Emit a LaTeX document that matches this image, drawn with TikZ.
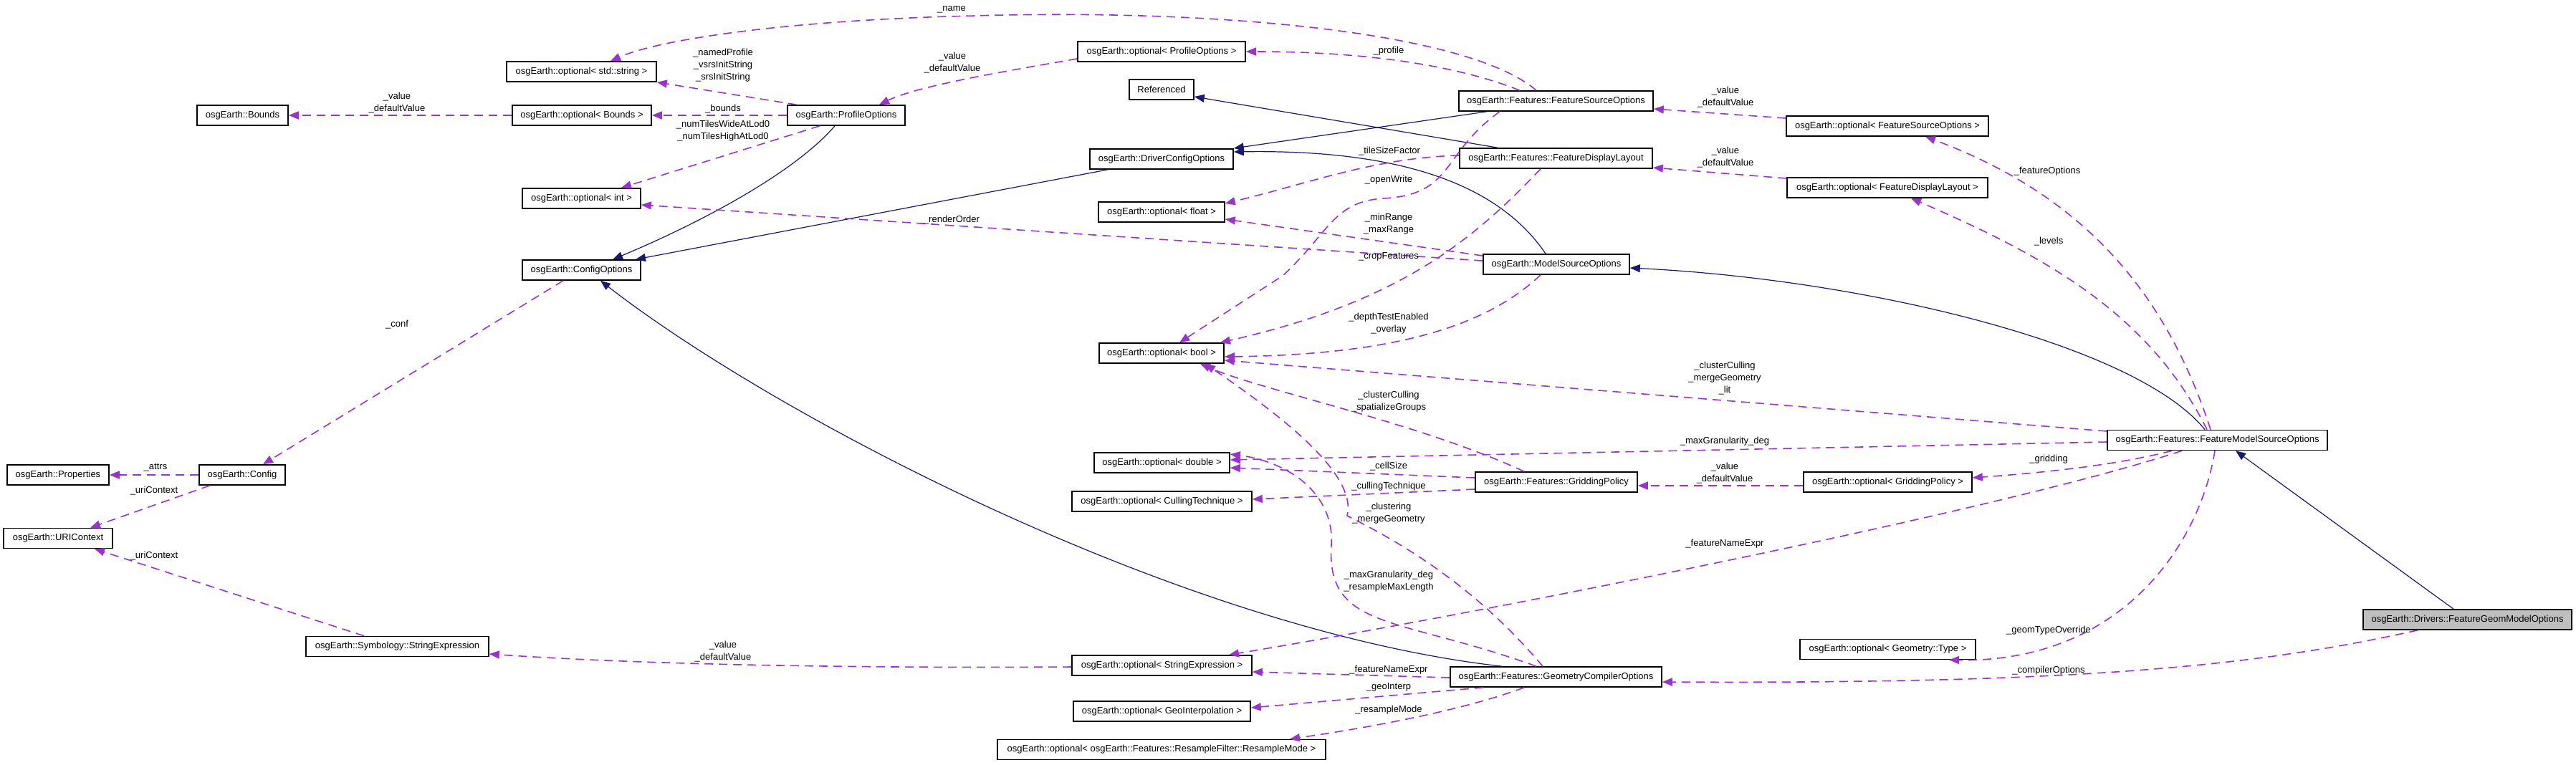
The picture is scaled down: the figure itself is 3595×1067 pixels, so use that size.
\documentclass[tikz,border=0pt]{standalone}
\usepackage{fontspec}
\setmainfont{Liberation Sans}
\usetikzlibrary{arrows.meta,calc}
\definecolor{navy}{HTML}{191970}
\definecolor{orchid}{HTML}{9A32CD}
\definecolor{grayfill}{HTML}{BFBFBF}
\newcommand\lblfont{\fontsize{6.5pt}{8.5pt}\selectfont}
\tikzset{
  cls/.style={draw=black, line width=0.8pt, fill=white, minimum height=14pt, inner sep=0pt, font=\lblfont},
  inh/.style={draw=navy, line width=0.6pt, -{Triangle[length=7pt,width=5.5pt]}},
  usage/.style={draw=orchid, line width=0.8pt, dash pattern=on 6pt off 4pt, -{Triangle[length=7pt,width=5.5pt]}},
  lab/.style={font=\lblfont, align=center, inner sep=0pt}
}
\begin{document}
\begin{tikzpicture}[x=0.5pt,y=-0.5pt]
\fill[white] (0,0) rectangle (3595,1067);
\useasboundingbox (0,0) rectangle (3595,1067);
% nodes
\node[cls, minimum width=104.5pt] (ostr) at (811.5,100) {osgEarth::optional< std::string >};
\node[cls, minimum width=63.5pt] (bounds) at (338.5,161) {osgEarth::Bounds};
\node[cls, minimum width=97pt] (obounds) at (812,161) {osgEarth::optional< Bounds >};
\node[cls, minimum width=82.5pt] (oint) at (811.5,277) {osgEarth::optional< int >};
\node[cls, minimum width=82pt] (profopt) at (1181,161) {osgEarth::ProfileOptions};
\node[cls, minimum width=117pt] (oprof) at (1621,72) {osgEarth::optional< ProfileOptions >};
\node[cls, minimum width=45pt] (referenced) at (1621,125) {Referenced};
\node[cls, minimum width=100pt] (dco) at (1621,222) {osgEarth::DriverConfigOptions};
\node[cls, minimum width=88pt] (ofloat) at (1621,296) {osgEarth::optional< float >};
\node[cls, minimum width=135.5pt] (fso) at (2171.5,141) {osgEarth::Features::FeatureSourceOptions};
\node[cls, minimum width=134.5pt] (fdl) at (2171.5,221) {osgEarth::Features::FeatureDisplayLayout};
\node[cls, minimum width=141pt] (ofso) at (2634,176) {osgEarth::optional< FeatureSourceOptions >};
\node[cls, minimum width=140pt] (ofdl) at (2634,262) {osgEarth::optional< FeatureDisplayLayout >};
\node[cls, minimum width=102pt] (mso) at (2172,369) {osgEarth::ModelSourceOptions};
\node[cls, minimum width=82.5pt] (confopt) at (811.5,377) {osgEarth::ConfigOptions};
\node[cls, minimum width=60pt] (config) at (338,663) {osgEarth::Config};
\node[cls, minimum width=71pt] (props) at (81,663) {osgEarth::Properties};
\node[cls, minimum width=87pt] (obool) at (1621,493) {osgEarth::optional< bool >};
\node[cls, minimum width=94.5pt] (odouble) at (1621.5,646) {osgEarth::optional< double >};
\node[cls, minimum width=125.5pt] (ocull) at (1621.5,700) {osgEarth::optional< CullingTechnique >};
\node[cls, minimum width=113pt] (grid) at (2172,673) {osgEarth::Features::GriddingPolicy};
\node[cls, minimum width=117.5pt] (ogrid) at (2634.5,673) {osgEarth::optional< GriddingPolicy >};
\node[cls, minimum width=153.5pt] (fmso) at (3094.5,614.5) {osgEarth::Features::FeatureModelSourceOptions};
\node[cls, minimum width=76pt] (uri) at (81,751.5) {osgEarth::URIContext};
\node[cls, minimum width=127.5pt] (sexpr) at (554.5,902.5) {osgEarth::Symbology::StringExpression};
\node[cls, minimum width=125.5pt] (osexpr) at (1621.5,929) {osgEarth::optional< StringExpression >};
\node[cls, minimum width=123.5pt] (ogeo) at (1621.5,993) {osgEarth::optional< GeoInterpolation >};
\node[cls, minimum width=229pt] (oresample) at (1621,1046.5) {osgEarth::optional< osgEarth::Features::ResampleFilter::ResampleMode >};
\node[cls, minimum width=147.5pt] (gco) at (2171.5,945) {osgEarth::Features::GeometryCompilerOptions};
\node[cls, minimum width=122.5pt] (ogeom) at (2634.5,906.5) {osgEarth::optional< Geometry::Type >};
\node[cls, minimum width=145.5pt, fill=grayfill] (fgmo) at (3443.5,865) {osgEarth::Drivers::FeatureGeomModelOptions};
% inheritance
\draw[inh] (1165,0 |- profopt.south) .. controls (1110,240) and (980,310) .. (855,0 |- confopt.north);
\draw[inh] (1546,0 |- dco.south) -- (887,0 |- confopt.north);
\draw[inh] (2075,0 |- fso.south) -- (dco.east |- 0,207);
\draw[inh] (2090,0 |- fdl.north) -- (referenced.east |- 0,135);
\draw[inh] (2157,0 |- mso.north) .. controls (2100,270) and (1980,208) .. (dco.east |- 0,212);
\draw[inh] (2096,0 |- gco.north) .. controls (1650,880) and (1080,580) .. (838,0 |- confopt.south);
\draw[inh] (3077,0 |- fmso.north) .. controls (2980,480) and (2600,390) .. (mso.east |- 0,374);
\draw[inh] (3424,0 |- fgmo.north) -- (3120,0 |- fmso.south);
% usage
\draw[usage] (obounds.west) -- (bounds.east);
\draw[usage] (1112,0 |- profopt.north) -- (ostr.south east);
\draw[usage] (profopt.west) -- (obounds.east);
\draw[usage] (1144,0 |- profopt.south) -- (867,0 |- oint.north);
\draw[usage] (oprof.west |- 0,82) .. controls (1400,100) and (1280,120) .. (1227,0 |- profopt.north);
\draw[usage] (2144,0 |- fso.north) .. controls (2050,45) and (1700,12) .. (1360,22) .. controls (1100,28) and (920,55) .. (852,0 |- ostr.north);
\draw[usage] (2121,0 |- fso.north) .. controls (2030,90) and (1900,72) .. (oprof.east);
\draw[usage] (2093,0 |- fso.south) .. controls (2010,215) and (2030,272) .. (1930,277) .. controls (1860,282) and (1855,325) .. (1790,385) -- (1646,0 |- obool.north);
\draw[usage] (fdl.west |- 0,217) .. controls (1920,220) and (1830,255) .. (ofloat.east |- 0,284);
\draw[usage] (2150,0 |- fdl.south) .. controls (2060,330) and (1960,420) .. (1703,0 |- obool.north);
\draw[usage] (mso.west |- 0,357) -- (ofloat.east |- 0,306);
\draw[usage] (mso.west |- 0,364) -- (oint.east |- 0,286);
\draw[usage] (2150,0 |- mso.south) .. controls (2080,450) and (1960,495) .. (obool.east |- 0,498);
\draw[usage] (fmso.west |- 0,602) -- (obool.east |- 0,503);
\draw[usage] (fmso.west |- 0,617) -- (odouble.east |- 0,642);
\draw[usage] (grid.west |- 0,667) -- (odouble.east |- 0,653);
\draw[usage] (grid.west |- 0,683) -- (ocull.east |- 0,697);
\draw[usage] (2127,0 |- grid.north) .. controls (1980,590) and (1760,545) .. (1675,0 |- obool.south);
\draw[usage] (ogrid.west |- 0,678) -- (grid.east |- 0,678);
\draw[usage] (3031,0 |- fmso.south) .. controls (2950,650) and (2850,660) .. (ogrid.east |- 0,667);
\draw[usage] (3045,0 |- fmso.south) .. controls (2800,710) and (2100,850) .. (1715,0 |- osexpr.north);
\draw[usage] (3091,0 |- fmso.south) .. controls (3070,760) and (2960,925) .. (2720,0 |- ogeom.south);
\draw[usage] (3374,0 |- fgmo.south) .. controls (3150,930) and (2900,955) .. (gco.east |- 0,952);
\draw[usage] (2144,0 |- gco.north) .. controls (1950,860) and (1850,880) .. (1858,760) .. controls (1862,690) and (1800,645) .. (odouble.east |- 0,634);
\draw[usage] (2153,0 |- gco.north) .. controls (2060,820) and (1960,760) .. (1880,720) .. controls (1895,660) and (1780,575) .. (1682,0 |- obool.south);
\draw[usage] (config.west) -- (props.east);
\draw[usage] (293,0 |- config.south) -- (126,0 |- uri.north);
\draw[usage] (508,0 |- sexpr.north) -- (132,0 |- uri.south);
\draw[usage] (786,0 |- confopt.south) -- (367,0 |- config.north);
\draw[usage] (osexpr.west |- 0,931) .. controls (1200,933) and (900,928) .. (sexpr.east |- 0,913);
\draw[usage] (gco.west |- 0,946) -- (osexpr.east |- 0,938);
\draw[usage] (2070,0 |- gco.south) -- (ogeo.east |- 0,988);
\draw[usage] (2127,0 |- gco.south) .. controls (2060,985) and (1950,1010) .. (1800,0 |- oresample.north);
\draw[usage] (ofso.west |- 0,165) -- (fso.east |- 0,152);
\draw[usage] (ofdl.west |- 0,249) -- (fdl.east |- 0,234);
\draw[usage] (3085,0 |- fmso.north) .. controls (3020,400) and (2900,270) .. (2687,0 |- ofso.south);
\draw[usage] (3080,0 |- fmso.north) .. controls (3000,440) and (2860,360) .. (2667,0 |- ofdl.south);
% labels
\node[lab] (l1) at (554,143.5) {\_value\\\_defaultValue};
\node[lab] (l2) at (1009,91.5) {\_namedProfile\\\_vsrsInitString\\\_srsInitString};
\node[lab] (l3) at (1009,152) {\_bounds};
\node[lab] (l4) at (1009,183) {\_numTilesWideAtLod0\\\_numTilesHighAtLod0};
\node[lab] (l5) at (1329,87.5) {\_value\\\_defaultValue};
\node[lab] (l6) at (1328,13) {\_name};
\node[lab] (l7) at (1938,71) {\_profile};
\node[lab] (l8) at (2408,136) {\_value\\\_defaultValue};
\node[lab] (l9) at (1939,211) {\_tileSizeFactor};
\node[lab] (l10) at (1938,251) {\_openWrite};
\node[lab] (l11) at (1938,312.5) {\_minRange\\\_maxRange};
\node[lab] (l12) at (1938,358) {\_cropFeatures};
\node[lab] (l13) at (2408,219.5) {\_value\\\_defaultValue};
\node[lab] (l14) at (2857,239) {\_featureOptions};
\node[lab] (l15) at (2859,337) {\_levels};
\node[lab] (l16) at (1328,307) {\_renderOrder};
\node[lab] (l17) at (554,453) {\_conf};
\node[lab] (l18) at (217,653) {\_attrs};
\node[lab] (l19) at (215,685) {\_uriContext};
\node[lab] (l20) at (1938,452) {\_depthTestEnabled\\\_overlay};
\node[lab] (l21) at (2407,528) {\_clusterCulling\\\_mergeGeometry\\\_lit};
\node[lab] (l22) at (1938,560.5) {\_clusterCulling\\\_spatializeGroups};
\node[lab] (l23) at (2407,616) {\_maxGranularity\_deg};
\node[lab] (l24) at (1938,651) {\_cellSize};
\node[lab] (l25) at (2407,660.5) {\_value\\\_defaultValue};
\node[lab] (l26) at (1938,679) {\_cullingTechnique};
\node[lab] (l27) at (1938,716.5) {\_clustering\\\_mergeGeometry};
\node[lab] (l28) at (2859,641) {\_gridding};
\node[lab] (l29) at (215,776) {\_uriContext};
\node[lab] (l30) at (1009,910) {\_value\\\_defaultValue};
\node[lab] (l31) at (2407,759) {\_featureNameExpr};
\node[lab] (l32) at (1938,811.5) {\_maxGranularity\_deg\\\_resampleMaxLength};
\node[lab] (l33) at (1938,935) {\_featureNameExpr};
\node[lab] (l34) at (1938,959) {\_geoInterp};
\node[lab] (l35) at (1938,991) {\_resampleMode};
\node[lab] (l36) at (2859,880) {\_geomTypeOverride};
\node[lab] (l37) at (2859,936) {\_compilerOptions};
\end{tikzpicture}
\end{document}
